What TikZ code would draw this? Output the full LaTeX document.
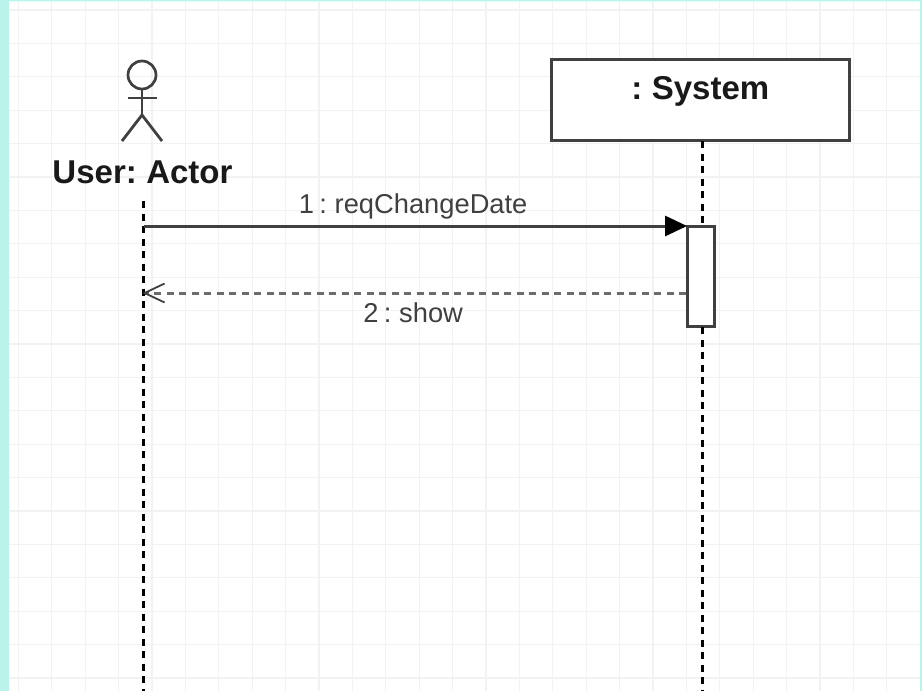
\documentclass[tikz,border=0pt]{standalone}
\usepackage{fontspec}
\setmainfont[WordSpace=0.7]{Liberation Sans}
\usetikzlibrary{arrows.meta,positioning,calc}
\definecolor{pagemint}{HTML}{B9F3EA}
\definecolor{gridgray}{HTML}{F2F2F2}
\definecolor{inkgray}{HTML}{404040}
\tikzset{gridline/.style={gridgray,line width=1.2pt}, }
\tikzset{main base/.style={draw=inkgray,fill=white,line width=2.7pt,inner sep=0pt}, }
\tikzset{objbox/.style={rectangle,main base,minimum width=298pt,minimum height=81pt}, }
\tikzset{activbox/.style={rectangle,main base,minimum width=27pt,minimum height=100pt}, }
\tikzset{headnode/.style={circle,main base,fill=none,minimum size=28pt}, }
\tikzset{objname/.style={font=\bfseries\fontsize{33}{36}\selectfont,text=black!90,inner sep=0pt}, }
\tikzset{msgname/.style={font=\fontsize{27.3}{32}\selectfont,text=inkgray,inner sep=0pt}, }
\tikzset{limb/.style={draw=inkgray,line width=2.8pt}, }
\tikzset{lifeline/.style={black,line width=2.05pt,dash pattern=on 7pt off 5.5pt}, }
\tikzset{linea/.style={-{Triangle[length=22pt,width=20pt,color=black]},draw=inkgray,line width=3pt,shorten >=-1pt}, }
\tikzset{linea2/.style={-{Straight Barb[length=20pt,width=19pt,line width=1.8pt,color=inkgray]},draw=gray!85!black,line width=3pt,dash pattern=on 7pt off 5.5pt,shorten >=-1pt}, }
\begin{document}
\begin{tikzpicture}[x=1pt,y=-1pt]
  \useasboundingbox (0,0) rectangle (922,691);
  \fill[pagemint] (0,0) rectangle (922,691);
  \fill[white] (9,1) rectangle (920,691);
  % grid
  \foreach \x in {0,...,26}
    \draw[gridline] ({18.3+33.4*\x},1) -- ({18.3+33.4*\x},691);
  \foreach \y in {0,...,20}
    \draw[gridline] (9,{10+33.4*\y}) -- (920,{10+33.4*\y});
  % actor
  \node[headnode] (head) at (142,75) {};
  \coordinate (hip) at (142,115);
  \coordinate (armL) at (128,98);
  \coordinate (armR) at (157,98);
  \coordinate (footL) at (122,141);
  \coordinate (footR) at (162,141);
  \draw[limb] (head) -- (hip);
  \draw[limb] (armL) -- (armR);
  \draw[limb] (footL) -- (hip) -- (footR);
  \node[objname] (user) at (142.5,172) {User: Actor};
  % system
  \node[objbox] (system) at (700.3,99.8) {};
  \node[objname] (systext) [below = 18.5pt of system.north] {: System};
  \node[activbox] (activ) at (700.9,276.7) {};
  % lifelines
  \coordinate (userTop) at (143.5,201);
  \coordinate (userEnd) at (143.5,691);
  \coordinate (sysTop) at (702.5,141);
  \coordinate (sysOut) at (702.5,327);
  \coordinate (sysEnd) at (702.5,691);
  \draw[lifeline] (userTop) -- (userEnd);
  \draw[lifeline] (sysTop) -- (sysTop |- activ.north);
  \draw[lifeline] (sysOut) -- (sysEnd);
  % messages
  \coordinate (req) at (143.5,226);
  \coordinate (ret) at (143.5,293);
  \draw[linea] (req) -- (activ.west |- req);
  \draw[linea2] (activ.west |- ret) -- (ret);
  \node[msgname] (reqname) [above = 7pt of $(req)!0.497!(activ.west |- req)$] {1 : reqChangeDate};
  \node[msgname] (retname) [below = 9.5pt of $(ret)!0.497!(activ.west |- ret)$] {2 : show};
\end{tikzpicture}
\end{document}
